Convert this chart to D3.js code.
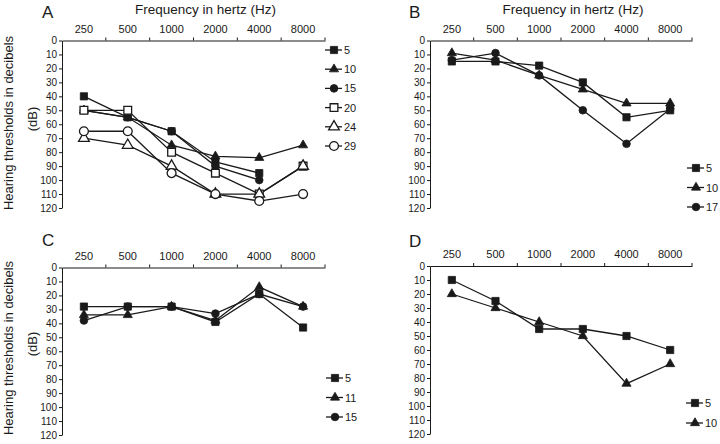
<!DOCTYPE html>
<html><head><meta charset="utf-8">
<script src="https://cdn.jsdelivr.net/npm/d3@7"></script>
<style>body{margin:0;background:#fff}svg{display:block;font-family:"Liberation Sans",Arial,sans-serif}</style>
</head><body>
<svg id="c" width="720" height="444"></svg>
<script>
const freqs = ["250","500","1000","2000","4000","8000"];
const yTicks = [0,10,20,30,40,50,60,70,80,90,100,110,120];

// Panel A
const namesA = ["5","10","15","20","24","29"];
const shapesA = ["sqF","triF","cirF","sqO","triO","cirO"];
const a5  = [40,55,65,87,95,null];
const a10 = [50,55,75,83,84,75];
const a15 = [50,55,65,90,100,null];
const a20 = [50,50,80,95,110,90];
const a24 = [70,75,90,110,110,90];
const a29 = [65,65,95,110,115,110];

// Panel B
const namesB = ["5","10","17"];
const shapesB = ["sqF","triF","cirF"];
const b5  = [15,15,18,30,55,50];
const b10 = [9,14,25,35,45,45];
const b17 = [14,9,25,50,74,49];

// Panel C
const namesC = ["5","11","15"];
const shapesC = ["sqF","triF","cirF"];
const c5  = [28,28,28,39,19,43];
const c11 = [34,34,28,38,14,28];
const c15 = [38,28,28,33,19,28];

// Panel D
const namesD = ["5","10"];
const shapesD = ["sqF","triF"];
const d5  = [10,25,45,45,50,60];
const d10 = [20,30,40,50,84,70];

const svg = d3.select("#c");
const ink = "#1a1a1a";

function symbolPath(kind){
  if(kind.startsWith("sq")) return d3.symbol(d3.symbolSquare, kind==="sqF"?52:60)();
  if(kind.startsWith("tri")) return d3.symbol(d3.symbolTriangle, kind==="triF"?36:50)();
  return d3.symbol(d3.symbolCircle, kind==="cirF"?46:62)();
}

function panel(cfg){
  const x = d3.scaleBand().domain(freqs).range([cfg.x0, cfg.x1]);
  const y = d3.scaleLinear().domain([0,120]).range([cfg.y0, cfg.y1]);
  const g = svg.append("g");

  const ax = g.append("g").attr("transform",`translate(0,${cfg.y0})`)
    .call(d3.axisTop(x).tickSize(0).tickPadding(8));
  ax.select(".domain").attr("stroke",ink);
  ax.selectAll("text").attr("font-size",11).attr("fill",ink).attr("font-family","Liberation Sans, Arial, sans-serif");
  const bounds = freqs.map(f=>x(f)).concat([cfg.x1]);
  g.selectAll("line.bt").data(bounds.slice(1)).join("line")
    .attr("x1",d=>d).attr("x2",d=>d).attr("y1",cfg.y0).attr("y2",cfg.y0-3)
    .attr("stroke",ink);

  const ay = g.append("g").attr("transform",`translate(${cfg.x0},0)`)
    .call(d3.axisLeft(y).tickValues(yTicks).tickSize(3).tickPadding(2).tickSizeOuter(0));
  ay.select(".domain").attr("stroke",ink);
  ay.selectAll("line").attr("stroke",ink);
  ay.selectAll("text").attr("font-size",10).attr("fill",ink).attr("font-family","Liberation Sans, Arial, sans-serif");

  g.append("text").attr("x",cfg.lx).attr("y",cfg.ly).attr("font-size",17).attr("fill",ink).text(cfg.letter);
  if(cfg.title){
    g.append("text").attr("x",(cfg.x0+cfg.x1)/2+12).attr("y",cfg.y0-27).attr("text-anchor","middle")
      .attr("font-size",13.5).attr("fill",ink).text("Frequency in hertz (Hz)");
  }
  if(cfg.ytitle){
    const cy = cfg.ytc;
    g.append("text").attr("transform",`translate(13,${cy}) rotate(-90)`).attr("text-anchor","middle")
      .attr("font-size",13).attr("fill",ink).text("Hearing thresholds in decibels");
    g.append("text").attr("transform",`translate(37,${cy-4}) rotate(-90)`).attr("text-anchor","middle")
      .attr("font-size",13).attr("fill",ink).text("(dB)");
  }

  const line = d3.line().defined(d=>d.v!=null).x(d=>x(d.f)+x.bandwidth()/2).y(d=>y(d.v));
  cfg.series.forEach((vals,i)=>{
    const pts = freqs.map((f,j)=>({f, v: vals[j]}));
    g.append("path").datum(pts).attr("d",line).attr("fill","none").attr("stroke",ink).attr("stroke-width",1.3);
  });
  cfg.series.forEach((vals,i)=>{
    const kind = cfg.shapes[i];
    const open = kind.endsWith("O");
    const pts = freqs.map((f,j)=>({f, v: vals[j]})).filter(d=>d.v!=null);
    g.selectAll(null).data(pts).join("path")
      .attr("d",symbolPath(kind))
      .attr("transform",d=>`translate(${x(d.f)+x.bandwidth()/2},${y(d.v)})`)
      .attr("fill",open?"#fff":ink).attr("stroke",ink).attr("stroke-width",open?1.3:0.8);
  });

  cfg.names.forEach((n,i)=>{
    const ly = cfg.legY + i*cfg.legStep;
    const lg = g.append("g");
    lg.append("line").attr("x1",cfg.legX).attr("x2",cfg.legX+17).attr("y1",ly).attr("y2",ly).attr("stroke",ink).attr("stroke-width",1.3);
    const kind = cfg.shapes[i];
    const open = kind.endsWith("O");
    lg.append("path").attr("d",symbolPath(kind)).attr("transform",`translate(${cfg.legX+9},${ly})`)
      .attr("fill",open?"#fff":ink).attr("stroke",ink).attr("stroke-width",open?1.3:0.8);
    lg.append("text").attr("x",cfg.legX+19).attr("y",ly+4).attr("font-size",11).attr("fill",ink).text(n);
  });
}

panel({letter:"A",lx:42,ly:18,title:true,ytitle:true,ytc:123,x0:62,x1:325,y0:40.5,y1:208,
  series:[a5,a10,a15,a20,a24,a29],names:namesA,shapes:shapesA,legX:325,legY:50,legStep:19.2});
panel({letter:"B",lx:409,ly:18,title:true,ytitle:false,x0:430,x1:692,y0:40.5,y1:208,
  series:[b5,b10,b17],names:namesB,shapes:shapesB,legX:687,legY:168,legStep:19.5});
panel({letter:"C",lx:42,ly:246,title:false,ytitle:true,ytc:348,x0:62,x1:325,y0:267.5,y1:435,
  series:[c5,c11,c15],names:namesC,shapes:shapesC,legX:326,legY:378,legStep:19.5});
panel({letter:"D",lx:409,ly:247,title:false,ytitle:false,x0:430,x1:692,y0:266,y1:434,
  series:[d5,d10],names:namesD,shapes:shapesD,legX:686,legY:403,legStep:20});
</script>
</body></html>
